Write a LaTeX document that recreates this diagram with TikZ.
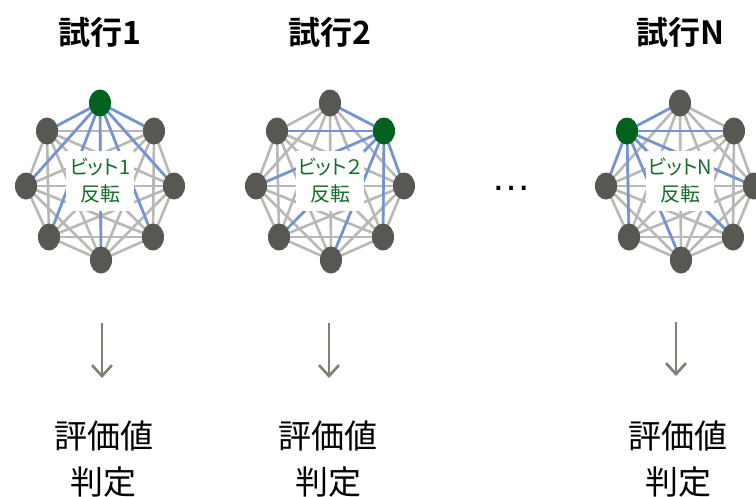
\documentclass[tikz,border=0pt]{standalone}
\usepackage{fontspec}
\newfontfamily\jp{Noto Sans CJK JP}[BoldFont={Noto Sans CJK JP Bold}]
\newfontfamily\jpp{Noto Sans CJK JP}[RawFeature=+palt]
\newfontfamily\lsans{Liberation Sans}
\usetikzlibrary{backgrounds,arrows.meta,shapes.geometric}
\definecolor{nodegray}{RGB}{88,88,82}
\definecolor{nodegreen}{RGB}{0,98,30}
\definecolor{edgegray}{RGB}{184,184,180}
\definecolor{edgeblue}{RGB}{116,146,214}
\definecolor{labgreen}{RGB}{22,108,42}
\definecolor{arrgray}{RGB}{128,128,118}
\tikzset{
  dnode/.style={ellipse, fill=nodegray, minimum width=22pt, minimum height=27pt, inner sep=0pt},
  gnode/.style={ellipse, fill=nodegreen, minimum width=22pt, minimum height=27pt, inner sep=0pt},
  gedge/.style={draw=edgegray, line width=2.6pt},
  bedge/.style={draw=edgeblue, line width=2.6pt},
  lbl/.style={fill=white, text=labgreen, font=\jpp\fontsize{20}{27}\selectfont, align=center, minimum width=68pt, minimum height=60pt, inner sep=1pt},
  ttl/.style={font=\jp\bfseries\fontsize{32}{36}\selectfont, text=black},
  res/.style={font=\jp\fontsize{33}{46}\selectfont, align=center, text=black},
  arr/.style={draw=arrgray, line width=2.6pt, -{Straight Barb[length=11pt,width=20pt,line width=2.6pt]}}
}
\newcommand\trialgraph[4]{%
  \begin{scope}[shift={(#2,185)}]
    \foreach \i/\px/\py in {1/0/-82,2/54/-54,3/74/1,4/53/52,5/1/75,6/-51/52,7/-74/1,8/-53/-54}{
      \ifnum\i=#3\relax
        \node[gnode] (#1\i) at (\px,\py) {};
      \else
        \node[dnode] (#1\i) at (\px,\py) {};
      \fi
    }
    \begin{pgfonlayer}{background}
      \foreach \i in {1,...,7}{
        \pgfmathtruncatemacro\s{\i+1}
        \foreach \j in {\s,...,8}{
          \draw[gedge] (#1\i.center) -- (#1\j.center);
        }
      }
      \foreach \j in {1,...,8}{
        \ifnum\j=#3\relax\else
          \draw[bedge] (#1#3.center) -- (#1\j.center);
        \fi
      }
    \end{pgfonlayer}
    \node[lbl] (#1lab) at (0,-4) {#4};
  \end{scope}
}
\begin{document}
\begin{tikzpicture}[x=1pt,y=-1pt]
\useasboundingbox (0,0) rectangle (756,496);
\trialgraph{ga}{100}{1}{ビット1\\反転}
\trialgraph{gb}{330}{2}{ビット２\\反転}
\trialgraph{gc}{680}{8}{ビットN\\反転}
\node[ttl] (t1) at (100,32) {試行1};
\node[ttl] (t2) at (330,32) {試行2};
\node[ttl] (t3) at (680,32) {試行N};
\node[font=\lsans\fontsize{40}{40}\selectfont, anchor=base, inner sep=0pt] (dots) at (511,190) {…};
\coordinate (a1s) at (102,323); \coordinate (a1e) at (102,378);
\coordinate (a2s) at (329,323); \coordinate (a2e) at (329,378);
\coordinate (a3s) at (676,322); \coordinate (a3e) at (676,376);
\draw[arr] (a1s) -- (a1e);
\draw[arr] (a2s) -- (a2e);
\draw[arr] (a3s) -- (a3e);
\node[res] (r1) at (104,459) {評価値\\判定};
\node[res] (r2) at (328,459) {評価値\\判定};
\node[res] (r3) at (678,459) {評価値\\判定};
\end{tikzpicture}
\end{document}
